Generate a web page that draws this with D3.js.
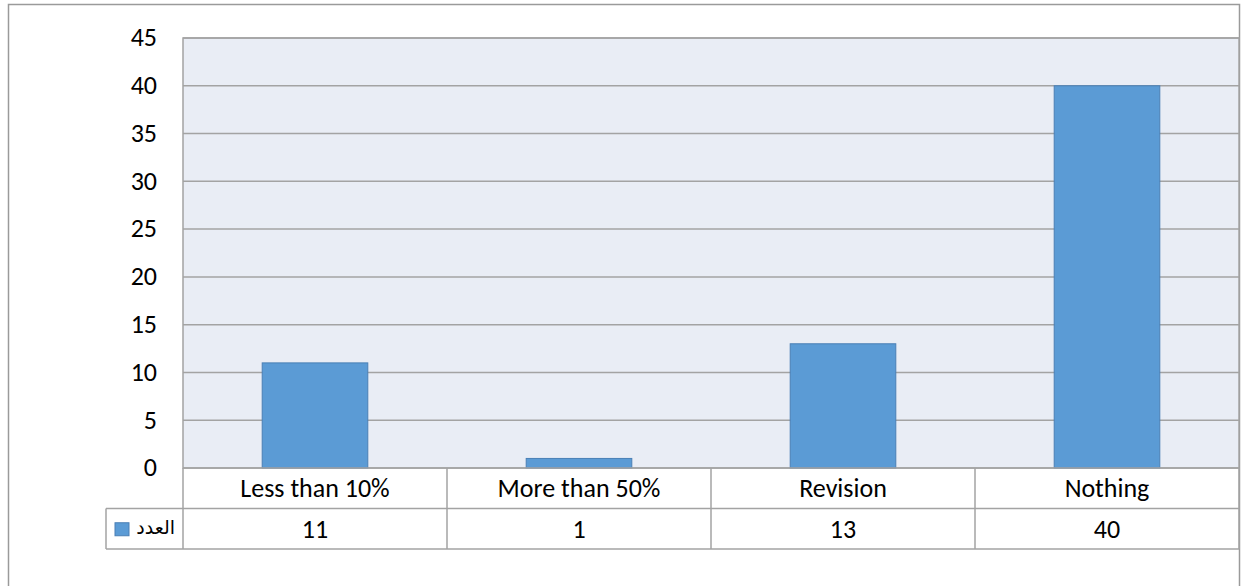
<!DOCTYPE html>
<html>
<head>
<meta charset="utf-8">
<script src="https://cdn.jsdelivr.net/npm/d3@7"></script>
<style>
  body { margin: 0; background: #fff; }
  text { font-family: Carlito, "Open Sans", "Liberation Sans", sans-serif; fill: #000; }
</style>
</head>
<body>
<svg id="chart"></svg>
<script>
// Data
const categories = ["Less than 10%", "More than 50%", "Revision", "Nothing"];
const values = [11, 1, 13, 40];
const seriesName = "العدد";
const yTicks = [0, 5, 10, 15, 20, 25, 30, 35, 40, 45];

const W = 1242, H = 586;
const margin = { top: 38, left: 183, right: 3, bottom: 118 };
const plotW = W - margin.left - margin.right;
const plotH = H - margin.top - margin.bottom;
const rowH = 40.5;
const legendLeft = 106;
const fontSize = "26px";

const svg = d3.select("#chart").attr("width", W).attr("height", H);

// outer frame
svg.append("rect")
  .attr("x", 8.5).attr("y", 4.5)
  .attr("width", 1231).attr("height", H + 10)
  .attr("fill", "#fff").attr("stroke", "#9a9a9a").attr("stroke-width", 1.5);

const chart = svg.append("g").attr("transform", `translate(${margin.left},${margin.top})`);

const x = d3.scaleBand().domain(categories).range([0, plotW]).paddingInner(0.6).paddingOuter(0.3);
const xCell = d3.scaleBand().domain(categories).range([0, plotW]);
const y = d3.scaleLinear().domain([0, 45]).range([plotH, 0]);

// plot background
chart.append("rect")
  .attr("width", plotW).attr("height", plotH)
  .attr("fill", "#e9edf5");

// gridlines
chart.selectAll(".grid")
  .data(yTicks)
  .join("line")
  .attr("x1", 0).attr("x2", plotW)
  .attr("y1", d => y(d)).attr("y2", d => y(d))
  .attr("stroke", "#a3a3a3").attr("stroke-width", 1.5);

// bars
chart.selectAll(".bar")
  .data(values)
  .join("rect")
  .attr("x", (d, i) => x(categories[i]))
  .attr("y", d => y(d))
  .attr("width", x.bandwidth())
  .attr("height", d => plotH - y(d))
  .attr("fill", "#5b9bd5")
  .attr("stroke", "#4a7fb5")
  .attr("stroke-width", 1);

// plot border
chart.append("rect")
  .attr("width", plotW).attr("height", plotH)
  .attr("fill", "none").attr("stroke", "#a3a3a3").attr("stroke-width", 1.5);

// y axis labels
const yAxis = d3.axisLeft(y).tickValues(yTicks).tickSize(0).tickPadding(26);
chart.append("g").call(yAxis)
  .call(g => g.select(".domain").remove())
  .selectAll("text")
  .style("font-size", fontSize)
  .attr("dy", "0.3em");

// data table
const table = chart.append("g").attr("transform", `translate(0,${plotH})`);
const lineColor = "#a3a3a3";
const lx = legendLeft - margin.left;

// horizontal lines
table.append("line").attr("x1", lx).attr("x2", plotW).attr("y1", rowH).attr("y2", rowH)
  .attr("stroke", lineColor).attr("stroke-width", 1.5);
table.append("line").attr("x1", lx).attr("x2", plotW).attr("y1", 2 * rowH).attr("y2", 2 * rowH)
  .attr("stroke", lineColor).attr("stroke-width", 1.5);
table.append("line").attr("x1", lx).attr("x2", lx)
  .attr("y1", rowH).attr("y2", 2 * rowH)
  .attr("stroke", lineColor).attr("stroke-width", 1.5);

// vertical cell dividers
const dividers = categories.map(c => xCell(c)).concat([plotW]);
table.selectAll(".div")
  .data(dividers)
  .join("line")
  .attr("x1", d => d).attr("x2", d => d)
  .attr("y1", 0).attr("y2", 2 * rowH)
  .attr("stroke", lineColor).attr("stroke-width", 1.5);

// category labels
table.selectAll(".cat")
  .data(categories)
  .join("text")
  .attr("x", d => xCell(d) + xCell.bandwidth() / 2)
  .attr("y", rowH / 2)
  .attr("dy", "0.35em")
  .attr("text-anchor", "middle")
  .style("font-size", fontSize)
  .text(d => d);

// values row
table.selectAll(".val")
  .data(values)
  .join("text")
  .attr("x", (d, i) => xCell(categories[i]) + xCell.bandwidth() / 2)
  .attr("y", rowH * 1.5)
  .attr("dy", "0.35em")
  .attr("text-anchor", "middle")
  .style("font-size", fontSize)
  .text(d => d);

// legend key in table
table.append("rect")
  .attr("x", lx + 9).attr("y", rowH * 1.5 - 6)
  .attr("width", 14).attr("height", 13)
  .attr("fill", "#5b9bd5").attr("stroke", "#4a7fb5");
table.append("text")
  .attr("x", -8)
  .attr("y", rowH * 1.5)
  .attr("dy", "0.3em")
  .attr("text-anchor", "end")
  .style("font-family", "'DejaVu Sans', 'Noto Sans', sans-serif")
  .style("font-size", "19px")
  .text(seriesName);
</script>
</body>
</html>
